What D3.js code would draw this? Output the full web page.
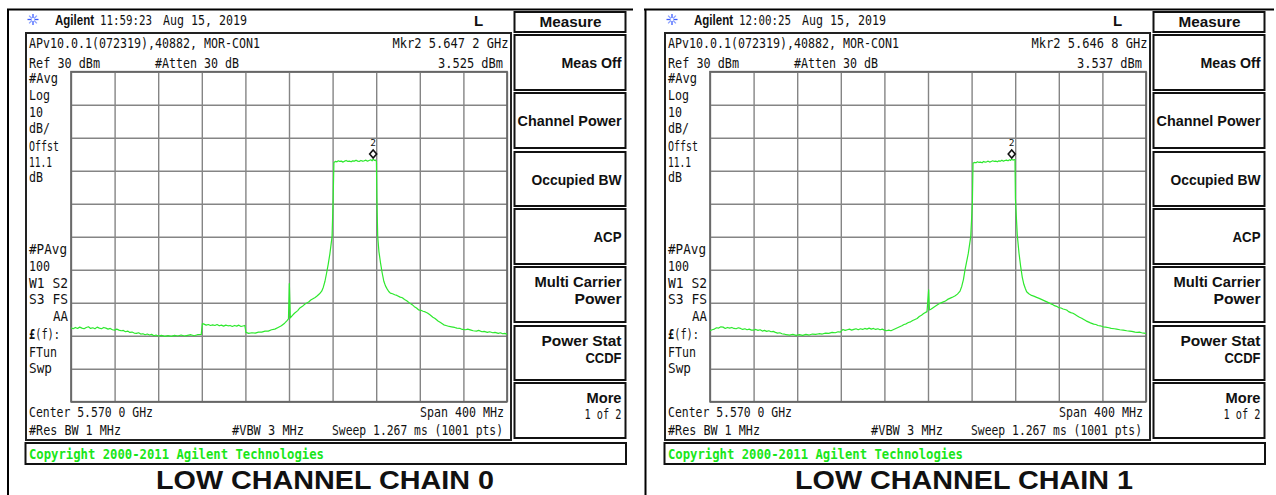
<!DOCTYPE html>
<html><head><meta charset="utf-8">
<script src="https://cdn.jsdelivr.net/npm/d3@7"></script>
<style>
html,body{margin:0;padding:0;background:#fff;}
svg{display:block;}
</style></head><body>
<svg id="c" width="1276" height="495"></svg>
<script>
// ---------- values ----------
const captions = ["LOW CHANNEL CHAIN 0", "LOW CHANNEL CHAIN 1"];
const clockTimes = ["11:59:23", "12:00:25"];
const dateText = "Aug 15, 2019";
const markerFreqText = ["5.647 2 GHz", "5.646 8 GHz"];
const markerLevelText = ["3.525 dBm", "3.537 dBm"];
const markerFreqMHz = [5647.2, 5646.8];
const markerLevelDbm = [3.525, 3.537];
const centerMHz = 5570;
const spanMHz = 400;
const refLevelDbm = 30;
const dbPerDiv = 10;
const divisions = 10;
const softkeyLabels = [["Meas Off"], ["Channel Power"], ["Occupied BW"], ["ACP"],
  ["Multi Carrier", "Power"], ["Power Stat", "CCDF"], ["More", "1 of 2"]];
const sideLabelsUpper = ["#Avg", "Log", "10", "dB/", "Offst", "11.1", "dB"];
const sideLabelsLower = ["#PAvg", "100", "W1  S2", "S3  FS", "AA", "£(f):", "FTun", "Swp"];

// averaged spectrum traces, [frequency MHz, level dBm]
const traceChain0 = [
  [5370,-47.6],[5372,-47.9],[5374,-47.5],[5376,-47.8],[5378,-47.4],[5380,-47.7],[5382,-47.9],
  [5384,-47.5],[5386,-47.3],[5388,-47.8],[5390,-47.6],[5392,-47.9],[5394,-47.4],[5396,-47.7],
  [5398,-47.9],[5400,-47.5],[5402,-47.7],[5404,-48.0],[5406,-47.8],[5408,-48.2],[5410,-48.3],
  [5412,-48.0],[5414,-48.3],[5416,-48.5],[5418,-48.4],[5420,-48.8],[5422,-48.6],[5424,-49.0],
  [5426,-48.9],[5428,-49.2],[5430,-49.3],[5432,-49.1],[5434,-49.5],[5436,-49.4],[5438,-49.7],
  [5440,-49.5],[5442,-49.8],[5444,-49.6],[5446,-50.0],[5448,-49.8],[5450,-50.1],[5453,-49.9],
  [5456,-50.2],[5459,-50.0],[5462,-50.2],[5465,-49.9],[5468,-50.1],[5471,-49.8],[5474,-50.1],
  [5477,-49.9],[5480,-49.7],[5483,-50.0],[5486,-49.7],[5489.5,-49.6],[5490.5,-46.3],[5492,-46.5],
  [5494,-46.8],[5496,-46.6],[5498,-46.9],[5500,-46.7],[5502,-46.9],[5504,-46.6],[5506,-47.0],
  [5508,-46.8],[5510,-47.1],[5512,-46.8],[5514,-47.0],[5516,-46.9],[5518,-47.2],[5520,-46.9],
  [5522,-47.1],[5524,-46.8],[5526,-47.2],[5529.5,-46.9],[5530.5,-49.0],[5533,-49.3],[5536,-49.1],
  [5539,-49.2],[5542,-48.9],[5545,-48.9],[5548,-48.6],[5551,-48.6],[5554,-48.2],[5557,-48.0],
  [5560,-47.5],[5563,-47.0],[5566,-46.2],[5568,-45.5],[5569.5,-44.9],[5570.3,-34.2],[5571.2,-44.6],
  [5573,-43.9],[5575,-43.2],[5578,-42.4],[5580,-41.6],[5583,-40.9],[5585,-40.3],[5588,-39.8],
  [5590,-39.2],[5592,-38.8],[5594,-38.4],[5596,-37.9],[5598,-37.3],[5600,-36.5],[5601.5,-35.3],
  [5603,-33.5],[5604.5,-31.0],[5606,-28.3],[5607.5,-25.2],[5609.5,-20.0],[5610.4,-9.8],
  [5611.2,2.5],[5612.5,2.8],[5614,2.7],[5615.3,3.0],[5616.5,2.8],[5618,2.9],[5619.6,2.6],
  [5621,2.9],[5622.4,3.1],[5624,2.8],[5625.5,2.9],[5627,2.7],[5628.4,3.0],[5630,2.9],
  [5631.5,3.2],[5633,2.9],[5634.4,2.8],[5636,3.1],[5637.5,2.9],[5639,3.0],[5640.6,3.2],
  [5642,2.9],[5643.5,3.1],[5645,3.3],[5646.2,3.0],[5647.2,3.5],[5648.5,3.1],[5649.5,3.2],
  [5650.2,2.8],[5650.6,-8.0],[5651.4,-20.0],[5652.5,-24.5],[5654,-28.0],[5655.5,-31.0],
  [5657,-33.5],[5658.5,-34.9],[5660,-35.8],[5661.5,-36.6],[5663,-37.1],[5665,-37.3],[5667,-37.6],
  [5669,-37.8],[5672,-38.3],[5674,-38.5],[5676,-39.0],[5678,-39.4],[5681,-40.2],[5683,-40.6],
  [5685,-41.2],[5687,-41.6],[5689,-42.2],[5691,-42.3],[5693,-42.6],[5695,-42.8],[5697,-43.1],
  [5699,-43.6],[5702,-44.4],[5704,-44.8],[5707,-45.6],[5709,-46.0],[5712,-46.7],[5714,-46.9],
  [5717,-47.2],[5719,-47.3],[5722,-47.5],[5724,-47.7],[5727,-47.8],[5729,-48.1],[5732,-48.2],
  [5734,-48.0],[5737,-48.3],[5739,-48.5],[5742,-48.6],[5744,-48.4],[5747,-48.8],[5749,-48.7],
  [5752,-49.0],[5754,-48.8],[5757,-49.1],[5759,-49.0],[5762,-49.3],[5764,-49.1],[5766,-49.4],
  [5768,-49.3],[5770,-49.6]
];
const traceChain1 = [
  [5370,-48.5],[5372,-48.2],[5374,-48.0],[5376,-47.6],[5378,-47.7],[5380,-47.3],[5382,-47.4],
  [5384,-47.8],[5386,-47.5],[5388,-47.7],[5390,-47.5],[5392,-47.8],[5394,-47.9],[5396,-47.6],
  [5398,-47.8],[5400,-48.1],[5402,-47.9],[5404,-48.2],[5406,-48.0],[5408,-48.3],[5410,-48.3],
  [5412,-48.1],[5414,-48.4],[5416,-48.2],[5418,-48.6],[5420,-48.4],[5422,-48.7],[5424,-48.5],
  [5426,-48.8],[5428,-48.7],[5430,-49.0],[5432,-49.2],[5434,-49.1],[5436,-49.4],[5438,-49.5],
  [5440,-49.7],[5443,-49.8],[5446,-49.6],[5449,-49.9],[5452,-49.7],[5455,-49.9],[5458,-49.6],
  [5461,-49.8],[5464,-49.5],[5467,-49.6],[5470,-49.4],[5473,-49.5],[5476,-49.2],[5479,-49.3],
  [5482,-49.0],[5485,-49.1],[5487.5,-48.8],[5489.5,-48.9],[5492,-48.1],[5494,-48.4],[5496,-48.2],
  [5498,-48.0],[5500,-48.3],[5502,-48.1],[5504,-47.9],[5506,-48.2],[5508,-47.9],[5510,-48.1],
  [5512,-47.8],[5514,-48.0],[5516,-47.7],[5518,-48.0],[5520,-47.8],[5522,-48.1],[5524,-47.9],
  [5526,-48.2],[5528,-48.0],[5530,-48.3],[5532,-48.5],[5534,-48.3],[5536,-48.5],[5538,-48.2],
  [5540,-47.9],[5542,-47.6],[5544,-47.3],[5546,-47.0],[5548,-46.6],[5550,-46.4],[5552,-46.0],
  [5554,-45.8],[5556,-45.4],[5558,-45.1],[5560,-44.8],[5562,-44.2],[5564,-43.8],[5566,-43.3],
  [5569.1,-42.7],[5570.6,-36.1],[5571.3,-42.2],[5573,-41.9],[5576,-41.2],[5578,-40.8],
  [5581,-40.2],[5583,-39.9],[5586,-39.5],[5588,-39.0],[5590,-38.7],[5592,-38.4],[5595,-37.9],
  [5597,-37.4],[5599.4,-36.5],[5601,-35.0],[5602.5,-33.0],[5604,-30.0],[5605.5,-27.5],
  [5607,-25.0],[5609.2,-20.0],[5610.7,-9.9],
  [5611.3,2.3],[5612.6,2.5],[5614,2.4],[5615.4,2.7],[5616.8,2.5],[5618.2,2.6],[5619.6,2.4],
  [5621,2.8],[5622.4,2.6],[5623.8,2.7],[5625.2,2.9],[5626.6,2.6],[5628,2.8],[5629.4,3.0],
  [5630.8,2.8],[5632.2,2.9],[5633.6,2.7],[5635,3.0],[5636.4,2.9],[5637.8,3.2],[5639.2,2.9],
  [5640.6,3.1],[5642,3.2],[5643.4,3.0],[5644.8,3.3],[5645.8,3.1],[5646.8,3.5],[5648,3.2],
  [5649.2,3.4],[5649.8,3.3],[5650.2,-8.4],[5651.9,-19.5],[5653.5,-25.0],[5655,-29.0],
  [5656.5,-32.3],[5658,-34.5],[5659.3,-35.7],[5660.5,-36.7],[5662.5,-37.3],[5665,-37.8],
  [5667,-38.0],[5669.7,-38.4],[5672,-38.7],[5674,-39.0],[5676,-39.3],[5678,-39.6],[5680,-39.9],
  [5681.9,-40.2],[5684,-40.5],[5686,-40.9],[5688,-41.1],[5690,-41.5],[5692,-41.6],[5694,-41.9],
  [5697.2,-42.2],[5699,-42.7],[5701,-43.0],[5703,-43.2],[5705,-43.6],[5707,-44.0],[5709,-44.4],
  [5711,-44.7],[5712.5,-45.0],[5715,-45.5],[5717,-45.8],[5719,-46.1],[5722,-46.5],[5724,-46.6],
  [5726,-46.9],[5728,-47.0],[5730.8,-47.3],[5733,-47.4],[5736,-47.6],[5738,-47.8],[5741,-47.9],
  [5743,-48.0],[5746,-48.2],[5749,-48.3],[5752.3,-48.5],[5755,-48.6],[5757,-48.7],[5760,-48.9],
  [5762,-49.0],[5764,-48.9],[5766,-49.1],[5768,-49.2],[5770,-49.3]
];
const traces = [traceChain0, traceChain1];

// ---------- drawing ----------
const MONO = "'DejaVu Sans Mono', 'Liberation Mono', monospace";
const SANS = "'Liberation Sans', Arial, sans-serif";
const KEYFONT = "'Liberation Sans', Arial, sans-serif";
const TRACE = "#2ee82e";
const INK = "#111";

const svg = d3.select("#c");

function txt(g, x, y, s, o = {}) {
  const t = g.append("text").attr("x", x).attr("y", y).text(s)
    .attr("font-family", o.family || MONO)
    .attr("font-size", o.size || 13.5)
    .attr("font-weight", o.weight || "normal")
    .attr("fill", o.fill || INK)
    .attr("text-anchor", o.anchor || "start");
  if (o.w) t.attr("textLength", o.w).attr("lengthAdjust", "spacingAndGlyphs");
  return t;
}

// table cell rules
svg.append("line").attr("x1", 8).attr("x2", 8).attr("y1", 9).attr("y2", 495)
  .attr("stroke", "#000").attr("stroke-width", 2);
svg.append("line").attr("x1", 645.5).attr("x2", 645.5).attr("y1", 9).attr("y2", 495)
  .attr("stroke", "#000").attr("stroke-width", 2);
svg.append("line").attr("x1", 7).attr("x2", 633).attr("y1", 9.5).attr("y2", 9.5)
  .attr("stroke", "#000").attr("stroke-width", 2);
svg.append("line").attr("x1", 644).attr("x2", 1274).attr("y1", 9.5).attr("y2", 9.5)
  .attr("stroke", "#000").attr("stroke-width", 2);

const startMHz = centerMHz - spanMHz / 2;
const stopMHz = centerMHz + spanMHz / 2;
const bottomDbm = refLevelDbm - dbPerDiv * divisions;
const freqDivs = d3.range(divisions + 1).map(i => startMHz + i * spanMHz / divisions);
const levelDivs = d3.range(divisions + 1).map(i => bottomDbm + i * dbPerDiv);

const keyBoxes = [[35, 90], [93, 148], [152, 206], [209, 264], [267, 322], [326, 380], [383, 438]];
const keyWidths = [[60], [104], [90], [28], [87, 47], [80, 36], [35, 37]];

[0, 1].forEach(p => {
  const g = svg.append("g").attr("transform", `translate(${p * 639},0)`);

  // header line
  const star = g.append("g").attr("transform", "translate(33,19.5)");
  d3.range(8).forEach(k => {
    const a = k * Math.PI / 4;
    star.append("line").attr("x1", 1.5 * Math.cos(a)).attr("y1", 1.5 * Math.sin(a))
      .attr("x2", 5.5 * Math.cos(a)).attr("y2", 5.5 * Math.sin(a))
      .attr("stroke", k % 2 ? "#8aa0ff" : "#3b5bff").attr("stroke-width", 1.3);
  });
  txt(g, 55, 24.5, "Agilent", { family: SANS, weight: "bold", size: 14, w: 39 });
  txt(g, 100, 24.5, clockTimes[p], { w: 52, size: 14 });
  txt(g, 163, 24.5, dateText, { w: 84, size: 14 });
  txt(g, 474, 25.5, "L", { weight: "bold", size: 15, family: KEYFONT });

  // soft keys
  g.append("rect").attr("x", 514.5).attr("y", 12).attr("width", 111).attr("height", 20)
    .attr("fill", "none").attr("stroke", "#111").attr("stroke-width", 2);
  txt(g, 570.5, 27, "Measure", { family: KEYFONT, weight: "bold", size: 15, anchor: "middle", w: 62 });
  keyBoxes.forEach((b, i) => {
    g.append("rect").attr("x", 514.5).attr("y", b[0]).attr("width", 111).attr("height", b[1] - b[0])
      .attr("fill", "none").attr("stroke", "#111").attr("stroke-width", 2);
    const lines = softkeyLabels[i];
    const cy = (b[0] + b[1]) / 2;
    lines.forEach((s, j) => {
      const regular = i === 6 && j === 1;
      const yy = lines.length === 1 ? cy + 5.5 : cy - 7.5 + j * 17 + (regular ? -1 : 0);
      txt(g, 621.5, yy, s, {
        family: regular ? MONO : KEYFONT, weight: regular ? "normal" : "bold",
        size: regular ? 14 : 15, anchor: "end", w: keyWidths[i][j]
      });
    });
  });

  // display frame
  g.append("rect").attr("x", 26).attr("y", 33).attr("width", 485).attr("height", 407)
    .attr("fill", "none").attr("stroke", "#222").attr("stroke-width", 2);

  txt(g, 29, 48, "APv10.0.1(072319),40882, MOR-CON1", { w: 231 });
  txt(g, 29, 67.5, "Ref 30 dBm", { w: 71 });
  txt(g, 155, 67.5, "#Atten 30 dB", { w: 84 });
  txt(g, 508.5, 48, "Mkr2  " + markerFreqText[p], { anchor: "end", w: 116 });
  txt(g, 503, 67.5, markerLevelText[p], { anchor: "end", w: 65 });

  const upperY = [82.5, 99.5, 116.5, 133, 150.5, 167, 181.5];
  const upperW = [29, 21, 14, 21, 30, 23, 14];
  sideLabelsUpper.forEach((s, i) => txt(g, 29, upperY[i], s, { w: upperW[i] }));
  const lowerY = [253.5, 270.5, 287.5, 303.5, 320.5, 338.5, 356.5, 372.5];
  const lowerW = [38, 21, 39, 39, 15, 31, 28, 23];
  sideLabelsLower.forEach((s, i) => {
    if (s === "AA") { txt(g, 68, lowerY[i], s, { anchor: "end", w: lowerW[i] }); return; }
    if (s.startsWith("£")) {
      const t = txt(g, 29, lowerY[i], "", { w: lowerW[i] });
      t.append("tspan").attr("font-weight", "bold").text("£");
      t.append("tspan").text(s.slice(1));
      return;
    }
    txt(g, 29, lowerY[i], s, { w: lowerW[i] });
  });

  txt(g, 29, 417, "Center 5.570 0 GHz", { w: 124 });
  txt(g, 29, 435, "#Res BW 1 MHz", { w: 92 });
  txt(g, 232, 435, "#VBW 3 MHz", { w: 72 });
  txt(g, 504, 417, "Span " + spanMHz + " MHz", { anchor: "end", w: 84 });
  txt(g, 503, 435, "Sweep 1.267 ms (1001 pts)", { anchor: "end", w: 171 });

  // copyright bar
  g.append("rect").attr("x", 25.5).attr("y", 443).attr("width", 600.5).attr("height", 21)
    .attr("fill", "none").attr("stroke", "#111").attr("stroke-width", 2);
  txt(g, 29, 459, "Copyright 2000-2011 Agilent Technologies",
    { weight: "bold", fill: "#19e619", w: 295, size: 14 });

  // caption
  txt(g, 325, 489, captions[p], { family: SANS, weight: "bold", size: 26, anchor: "middle", w: 338 });

  // graticule
  const x = d3.scaleLinear().domain([startMHz, stopMHz]).range([71, 507]);
  const y = d3.scaleLinear().domain([bottomDbm, refLevelDbm]).range([401.7, 71.7]);

  const gx = g.append("g").attr("transform", "translate(0,401.7)")
    .call(d3.axisBottom(x).tickValues(freqDivs).tickSize(-330).tickFormat(""));
  const gy = g.append("g").attr("transform", "translate(71,0)")
    .call(d3.axisLeft(y).tickValues(levelDivs).tickSize(-436).tickFormat(""));
  [gx, gy].forEach(a => {
    a.select(".domain").remove();
    a.selectAll(".tick line").attr("stroke", "#858585").attr("stroke-width", 1.4);
  });
  g.append("rect").attr("x", x(startMHz)).attr("y", y(refLevelDbm))
    .attr("width", x(stopMHz) - x(startMHz)).attr("height", y(bottomDbm) - y(refLevelDbm))
    .attr("fill", "none").attr("stroke", "#666").attr("stroke-width", 1.7);

  // trace
  const line = d3.line().x(d => x(d[0])).y(d => y(d[1]));
  g.append("path").datum(traces[p]).attr("d", line)
    .attr("fill", "none").attr("stroke", TRACE).attr("stroke-width", 1.2)
    .attr("stroke-linejoin", "round");

  // marker 2
  const mx = x(markerFreqMHz[p]), my = y(markerLevelDbm[p]);
  g.append("path").attr("d", `M${mx},${my - 1}l-3.5,-4l3.5,-4l3.5,4z`)
    .attr("fill", "#fff").attr("stroke", "#111").attr("stroke-width", 1.6);
  txt(g, mx, my - 13, "2", { anchor: "middle", size: 9.5 });
});
</script>
</body></html>
